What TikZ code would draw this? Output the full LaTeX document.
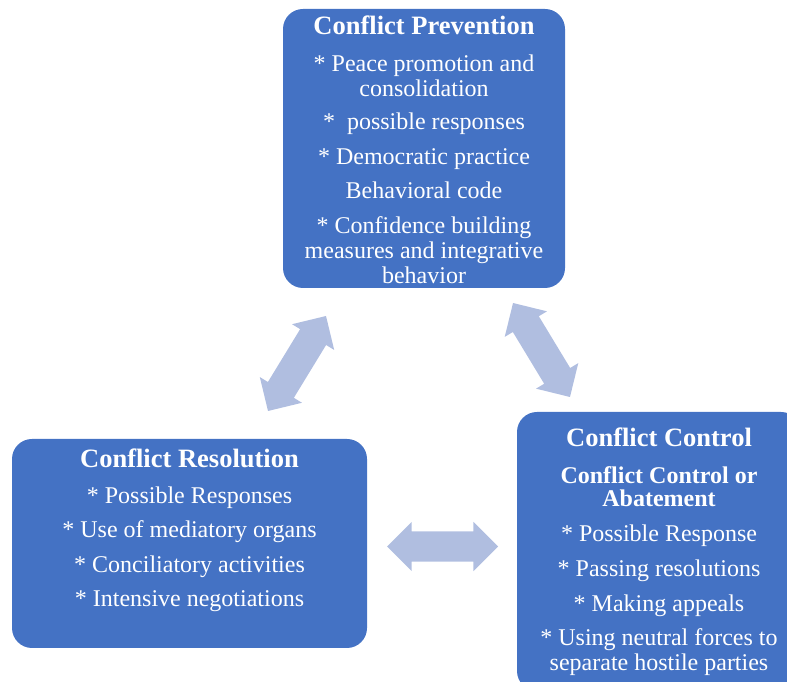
\documentclass[tikz,border=0pt]{standalone}
\usepackage{fontspec}
\setmainfont{Liberation Serif}
\usetikzlibrary{shapes.arrows}
\definecolor{boxblue}{HTML}{4472C4}
\definecolor{arrowblue}{HTML}{B0BEE0}
\begin{document}
\begin{tikzpicture}[x=1pt,y=1pt,
  box/.style={rectangle, rounded corners=20pt, fill=boxblue, draw=none, inner sep=0pt},
  ttl/.style={text=white, font=\fontsize{26.5}{30}\selectfont\bfseries, anchor=base, inner sep=0pt},
  sub/.style={text=white, font=\fontsize{24}{28}\selectfont\bfseries, anchor=base, inner sep=0pt},
  txt/.style={text=white, font=\fontsize{24}{28}\selectfont, anchor=base, inner sep=0pt},
  blk/.style={double arrow, fill=arrowblue, draw=none, inner xsep=0pt, inner ysep=15pt,
    double arrow head extend=9.5pt, double arrow tip angle=90}]
\useasboundingbox (0,0) rectangle (787,682);
\clip (0,0) rectangle (787,682);

% boxes
\node[box, minimum width=282pt, minimum height=279pt] (prev) at (424,533.5) {};
\node[box, minimum width=355pt, minimum height=209pt] (reso) at (189.5,138.5) {};
\node[box, minimum width=284pt, minimum height=279pt] (ctrl) at (659,130.5) {};

% Conflict Prevention
\node[ttl] (p0) at (424,647) {Conflict Prevention};
\node[txt] (p1) at (424,610.5) {* Peace promotion and};
\node[txt] (p2) at (424,585.5) {consolidation};
\node[txt] (p3) at (424,552) {*\ \ possible responses};
\node[txt] (p4) at (424,517.5) {* Democratic practice};
\node[txt] (p5) at (424,483) {Behavioral code};
\node[txt] (p6) at (424,448.5) {* Confidence building};
\node[txt] (p7) at (424,423.5) {measures and integrative};
\node[txt] (p8) at (424,398.5) {behavior};

% Conflict Resolution
\node[ttl] (r0) at (189.5,214.3) {Conflict Resolution};
\node[txt] (r1) at (189.5,178.8) {* Possible Responses};
\node[txt] (r2) at (189.5,144.8) {* Use of mediatory organs};
\node[txt] (r3) at (189.5,109.8) {* Conciliatory activities};
\node[txt] (r4) at (189.5,75.5) {* Intensive negotiations};

% Conflict Control
\node[ttl] (c0) at (659,235) {Conflict Control};
\node[sub] (c1) at (659,198.5) {Conflict Control or};
\node[sub] (c2) at (659,175) {Abatement};
\node[txt] (c3) at (659,140) {* Possible Response};
\node[txt] (c4) at (659,105) {* Passing resolutions};
\node[txt] (c5) at (659,70.5) {* Making appeals};
\node[txt] (c6) at (659,36.5) {* Using neutral forces to};
\node[txt] (c7) at (659,11.5) {separate hostile parties};

% block arrows
\node[blk, minimum height=111.3pt, rotate=58.6] (a1) at (297,318.5) {};
\node[blk, minimum height=109.9pt, rotate=-58.8] (a2) at (541.5,332) {};
\node[blk, minimum height=111pt] (a3) at (442.5,135.5) {};
\end{tikzpicture}
\end{document}
